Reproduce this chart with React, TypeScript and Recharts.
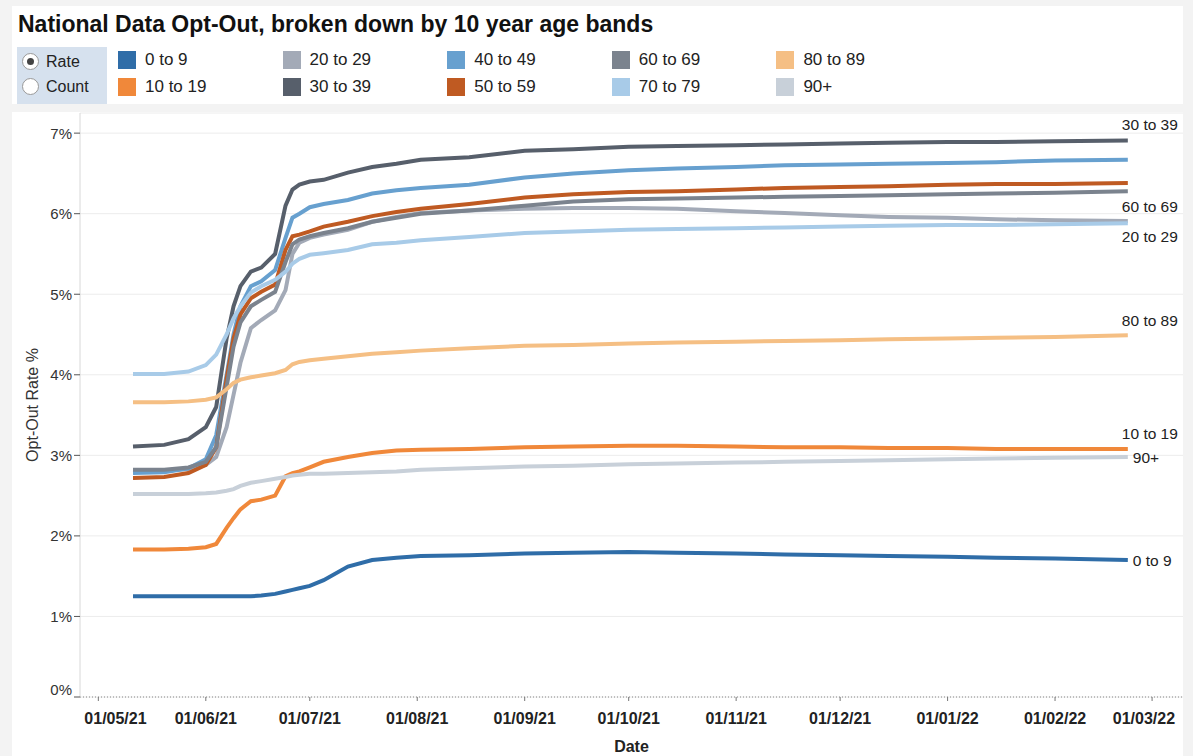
import { LineChart, Line, XAxis, YAxis, CartesianGrid, LabelList } from "recharts";

const dates = [
  "2021-05-11", "2021-05-20", "2021-05-27", "2021-06-01", "2021-06-04", "2021-06-07",
  "2021-06-09", "2021-06-11", "2021-06-14", "2021-06-17", "2021-06-21", "2021-06-24",
  "2021-06-26", "2021-06-28", "2021-07-01", "2021-07-05", "2021-07-12", "2021-07-19",
  "2021-07-26", "2021-08-02", "2021-08-16", "2021-09-01", "2021-09-15", "2021-10-01",
  "2021-10-15", "2021-11-01", "2021-11-15", "2021-12-01", "2021-12-15", "2022-01-01",
  "2022-01-15", "2022-02-01", "2022-02-22",
];

const band0to9 = [1.25, 1.25, 1.25, 1.25, 1.25, 1.25, 1.25, 1.25, 1.25, 1.26, 1.28, 1.31, 1.33, 1.35, 1.38, 1.45, 1.62, 1.70, 1.73, 1.75, 1.76, 1.78, 1.79, 1.80, 1.79, 1.78, 1.77, 1.76, 1.75, 1.74, 1.73, 1.72, 1.70];
const band10to19 = [1.83, 1.83, 1.84, 1.86, 1.90, 2.10, 2.22, 2.33, 2.43, 2.45, 2.50, 2.74, 2.78, 2.80, 2.85, 2.92, 2.98, 3.03, 3.06, 3.07, 3.08, 3.10, 3.11, 3.12, 3.12, 3.11, 3.10, 3.10, 3.09, 3.09, 3.08, 3.08, 3.08];
const band20to29 = [2.81, 2.81, 2.83, 2.88, 2.98, 3.35, 3.75, 4.15, 4.58, 4.68, 4.80, 5.05, 5.50, 5.64, 5.70, 5.74, 5.80, 5.90, 5.96, 6.01, 6.04, 6.06, 6.07, 6.07, 6.06, 6.03, 6.01, 5.98, 5.96, 5.95, 5.93, 5.92, 5.91];
const band30to39 = [3.11, 3.13, 3.20, 3.35, 3.60, 4.45, 4.85, 5.10, 5.28, 5.33, 5.50, 6.10, 6.30, 6.36, 6.40, 6.42, 6.51, 6.58, 6.62, 6.67, 6.70, 6.78, 6.80, 6.83, 6.84, 6.85, 6.86, 6.87, 6.88, 6.89, 6.89, 6.90, 6.91];
const band40to49 = [2.78, 2.79, 2.84, 2.95, 3.25, 4.00, 4.50, 4.85, 5.10, 5.16, 5.30, 5.70, 5.95, 6.00, 6.08, 6.12, 6.17, 6.25, 6.29, 6.32, 6.36, 6.45, 6.50, 6.54, 6.56, 6.58, 6.60, 6.61, 6.62, 6.63, 6.64, 6.66, 6.67];
const band50to59 = [2.72, 2.73, 2.78, 2.88, 3.10, 3.95, 4.45, 4.75, 4.95, 5.03, 5.12, 5.55, 5.72, 5.74, 5.78, 5.84, 5.90, 5.97, 6.02, 6.06, 6.12, 6.20, 6.24, 6.27, 6.28, 6.30, 6.32, 6.33, 6.34, 6.36, 6.37, 6.37, 6.38];
const band60to69 = [2.82, 2.82, 2.85, 2.92, 3.10, 3.85, 4.35, 4.65, 4.85, 4.93, 5.03, 5.40, 5.62, 5.68, 5.72, 5.76, 5.82, 5.90, 5.95, 6.00, 6.04, 6.10, 6.15, 6.18, 6.19, 6.20, 6.21, 6.22, 6.23, 6.24, 6.25, 6.26, 6.28];
const band70to79 = [4.01, 4.01, 4.04, 4.12, 4.25, 4.50, 4.70, 4.85, 5.02, 5.10, 5.18, 5.28, 5.38, 5.44, 5.49, 5.51, 5.55, 5.62, 5.64, 5.67, 5.71, 5.76, 5.78, 5.80, 5.81, 5.82, 5.83, 5.84, 5.85, 5.86, 5.86, 5.87, 5.88];
const band80to89 = [3.66, 3.66, 3.67, 3.69, 3.72, 3.82, 3.90, 3.94, 3.97, 3.99, 4.02, 4.06, 4.13, 4.16, 4.18, 4.20, 4.23, 4.26, 4.28, 4.30, 4.33, 4.36, 4.37, 4.39, 4.40, 4.41, 4.42, 4.43, 4.44, 4.45, 4.46, 4.47, 4.49];
const band90plus = [2.52, 2.52, 2.52, 2.53, 2.54, 2.56, 2.58, 2.62, 2.66, 2.68, 2.71, 2.73, 2.75, 2.76, 2.77, 2.77, 2.78, 2.79, 2.80, 2.82, 2.84, 2.86, 2.87, 2.89, 2.90, 2.91, 2.92, 2.93, 2.94, 2.95, 2.96, 2.97, 2.98];

const tickDates = [
  "2021-05-01", "2021-06-01", "2021-07-01", "2021-08-01", "2021-09-01", "2021-10-01",
  "2021-11-01", "2021-12-01", "2022-01-01", "2022-02-01", "2022-03-01",
];
const yTicks = [0, 1, 2, 3, 4, 5, 6, 7];

const series = [
  { name: "0 to 9", values: band0to9, color: "#2f6da8" },
  { name: "10 to 19", values: band10to19, color: "#f0883a" },
  { name: "20 to 29", values: band20to29, color: "#a3aab7" },
  { name: "30 to 39", values: band30to39, color: "#575f6b" },
  { name: "40 to 49", values: band40to49, color: "#67a0cf" },
  { name: "50 to 59", values: band50to59, color: "#bf5a22" },
  { name: "60 to 69", values: band60to69, color: "#7b838e" },
  { name: "70 to 79", values: band70to79, color: "#a8cbe8" },
  { name: "80 to 89", values: band80to89, color: "#f5bf84" },
  { name: "90+", values: band90plus, color: "#c8d0d9" },
];

// where the end-of-line label sits relative to the last point
const endLabel: Record<string, { dx: number; dy: number }> = {
  "30 to 39": { dx: -6, dy: -16 },
  "60 to 69": { dx: -6, dy: 15 },
  "20 to 29": { dx: -6, dy: 16 },
  "80 to 89": { dx: -6, dy: -15 },
  "10 to 19": { dx: -6, dy: -15 },
  "90+": { dx: 5, dy: 1 },
  "0 to 9": { dx: 5, dy: 0 },
};

const toTs = (s: string) => Date.parse(s + "T00:00:00Z");
const data = dates.map((d, i) => {
  const row: Record<string, number> = { ts: toTs(d) };
  series.forEach((s) => (row[s.name] = s.values[i]));
  return row;
});
const lastIndex = dates.length - 1;
const font = "'Liberation Sans', Arial, Helvetica, sans-serif";

const fmtDate = (ts: number) => {
  const d = new Date(ts);
  const dd = String(d.getUTCDate()).padStart(2, "0");
  const mm = String(d.getUTCMonth() + 1).padStart(2, "0");
  const yy = String(d.getUTCFullYear()).slice(2);
  return `${dd}/${mm}/${yy}`;
};

function DateTick(props: any) {
  const { x, y, payload, index } = props;
  // first and last labels are pushed inward to stay inside the pane
  let tx = x;
  let anchor = "middle";
  if (index === 0) {
    tx = x - 14;
    anchor = "start";
  } else if (index === tickDates.length - 1) {
    tx = x + 23;
    anchor = "end";
  }
  return (
    <text x={tx} y={y + 15} textAnchor={anchor} dominantBaseline="central" fontSize={16} fontWeight="bold" fill="#222" fontFamily={font}>
      {fmtDate(payload.value)}
    </text>
  );
}

function RateTick(props: any) {
  const { x, y, payload } = props;
  const shift = payload.value === 0 ? -8 : 0;
  return (
    <text x={x} y={y + shift} textAnchor="end" dominantBaseline="central" fontSize={15} fill="#333" fontFamily={font}>
      {payload.value}%
    </text>
  );
}

function Radio({ label, checked }: { label: string; checked: boolean }) {
  return (
    <div style={{ display: "flex", alignItems: "center", height: 25 }}>
      <div
        style={{
          width: 15,
          height: 15,
          borderRadius: "50%",
          border: "1px solid #999",
          background: "#fff",
          display: "flex",
          alignItems: "center",
          justifyContent: "center",
          marginLeft: 5,
          marginRight: 7,
        }}
      >
        {checked && <div style={{ width: 7, height: 7, borderRadius: "50%", background: "#444" }} />}
      </div>
      <span style={{ fontSize: 16, color: "#222" }}>{label}</span>
    </div>
  );
}

export default function App() {
  const legendRows = [series.filter((_, i) => i % 2 === 0), series.filter((_, i) => i % 2 === 1)];

  return (
    <div style={{ position: "absolute", left: 0, top: 0, width: 1193, height: 756, background: "#f3f3f3", fontFamily: font }}>
      <div style={{ position: "absolute", left: 12, top: 6, width: 1171, height: 98, background: "#fff" }}>
        <div style={{ position: "absolute", left: 6, top: 5, fontSize: 23, fontWeight: "bold", color: "#111", whiteSpace: "nowrap" }}>
          National Data Opt-Out, broken down by 10 year age bands
        </div>
        <div style={{ position: "absolute", left: 5, top: 41, width: 90, height: 57, background: "#d6e1ee", paddingTop: 2, boxSizing: "border-box" }}>
          <Radio label="Rate" checked />
          <Radio label="Count" checked={false} />
        </div>
        {legendRows.map((row, r) => (
          <div key={r}>
            {row.map((s, c) => (
              <div
                key={s.name}
                style={{ position: "absolute", left: 106 + c * 164.6, top: 45 + r * 27, display: "flex", alignItems: "center", height: 18 }}
              >
                <div style={{ width: 18, height: 18, background: s.color, marginRight: 9 }} />
                <span style={{ fontSize: 17, color: "#222", whiteSpace: "nowrap" }}>{s.name}</span>
              </div>
            ))}
          </div>
        ))}
      </div>
      <div style={{ position: "absolute", left: 12, top: 112, width: 1171, height: 644, background: "#fff" }}>
        <LineChart width={1171} height={644} data={data} margin={{ top: 1, right: 0, bottom: 0, left: 8 }}>
          <CartesianGrid horizontal vertical={false} stroke="#ececec" />
          <XAxis
            dataKey="ts"
            type="number"
            scale="time"
            domain={[Date.parse("2021-04-25T17:00:00Z"), Date.parse("2022-03-09T22:00:00Z")]}
            ticks={tickDates.map(toTs)}
            tick={<DateTick />}
            tickSize={4}
            tickLine={{ stroke: "#777" }}
            axisLine={{ stroke: "#888", strokeDasharray: "1 2" }}
            height={59}
            interval={0}
            label={{ value: "Date", position: "insideBottom", offset: 4, style: { fontSize: 16, fontWeight: "bold", fill: "#222", fontFamily: font } }}
          />
          <YAxis
            type="number"
            domain={[0, 7.25]}
            ticks={yTicks}
            width={60}
            tick={<RateTick />}
            tickSize={6}
            tickLine={{ stroke: "#555" }}
            axisLine={{ stroke: "#d8d8d8" }}
            label={{ value: "Opt-Out Rate %", angle: -90, position: "insideLeft", offset: 12, style: { textAnchor: "middle", fontSize: 16, fill: "#333", fontFamily: font } }}
          />
          {series.map((s) => (
            <Line
              key={s.name}
              type="linear"
              dataKey={s.name}
              stroke={s.color}
              strokeWidth={4}
              dot={false}
              isAnimationActive={false}
            >
              {endLabel[s.name] && (
                <LabelList
                  dataKey={s.name}
                  content={(p: any) =>
                    p.index === lastIndex ? (
                      <text
                        x={p.x + endLabel[s.name].dx}
                        y={p.y + endLabel[s.name].dy}
                        dominantBaseline="central"
                        fontSize={15.5}
                        fill="#222"
                        fontFamily={font}
                      >
                        {s.name}
                      </text>
                    ) : null
                  }
                />
              )}
            </Line>
          ))}
        </LineChart>
      </div>
    </div>
  );
}
